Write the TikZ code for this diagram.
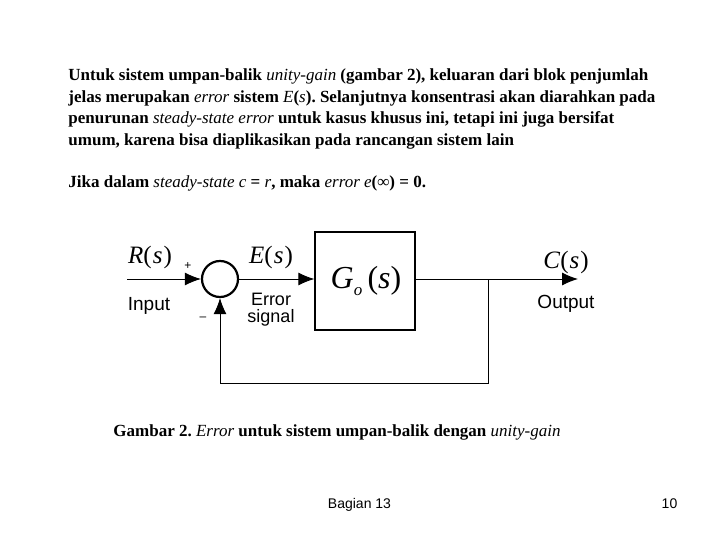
\documentclass[tikz,border=0pt]{standalone}
\usepackage{fontspec}
\setmainfont{Liberation Serif}
\setsansfont{Liberation Sans}
\usetikzlibrary{arrows.meta}
\frenchspacing
\begin{document}
\begin{tikzpicture}[x=1pt,y=-1pt,line width=0.9pt,
        txt/.style={anchor=base west,inner sep=0,font=\fontsize{17}{20}\selectfont\bfseries},
        sig/.style={-{Latex[length=16pt,width=13pt]}},
        var/.style={anchor=base,inner sep=0,font=\fontsize{25}{27}\selectfont},
        lbl/.style={anchor=base,inner sep=0,font=\fontsize{19}{20}\selectfont\sffamily},
        sgn/.style={inner sep=0,font=\fontsize{12}{12}\selectfont\sffamily}]
    \useasboundingbox (0,0) rectangle (720,540);
    \node [txt] (l1) at (68,81) {Untuk sistem umpan-balik \textit{\mdseries unity-gain} (gambar 2), keluaran dari blok penjumlah};
    \node [txt] (l2) at (68,102.7) {jelas merupakan \textit{\mdseries error} sistem \textit{\mdseries E}(\textit{\mdseries s}). Selanjutnya konsentrasi akan diarahkan pada};
    \node [txt] (l3) at (68,124) {penurunan \textit{\mdseries steady-state error} untuk kasus khusus ini, tetapi ini juga bersifat};
    \node [txt] (l4) at (68,145.5) {umum, karena bisa diaplikasikan pada rancangan sistem lain};
    \node [txt] (l5) at (68,188) {Jika dalam \textit{\mdseries steady-state c} = \textit{\mdseries r}, maka \textit{\mdseries error e}(∞) = 0.};
    \node [draw,circle,line width=2.2pt,minimum size=36pt,inner sep=0] (sum) at (220,279) {};
    \node [draw,line width=1.3pt,minimum width=100pt,minimum height=98pt,inner sep=0] (plant) at (365,281) {};
    \node [anchor=base,inner sep=0,font=\fontsize{32}{34}\selectfont] (go) at (366,288) {\textit{G}\raisebox{-7pt}{\fontsize{17}{17}\selectfont\textit{o}}\,(\textit{s})};
    \coordinate (in) at (127,279);
    \coordinate (branch) at (488,279);
    \coordinate (out) at (578,279);
    \coordinate (bottom) at (488,383);
    \draw [sig] (in) -- (sum.west);
    \draw [sig] (sum.east) -- (sum.east -| plant.west);
    \draw (sum -| plant.east) -- (branch);
    \draw [sig] (branch) -- (out);
    \draw [sig] (branch) -- (bottom) -| (sum.south);
    \node [var] (r) at (150,263) {\textit{R}(\kern1pt\textit{s}\kern1pt)};
    \node [var] (e) at (271,263) {\textit{E}(\kern1pt\textit{s}\kern1pt)};
    \node [var] (c) at (566,268) {\textit{C}(\kern1pt\textit{s}\kern1pt)};
    \node [sgn] (plus) at (188,266) {+};
    \node [sgn] (minus) at (203,319) {–};
    \node [lbl] (input) at (149,310) {Input};
    \node [lbl] (output) at (566,308) {Output};
    \node [lbl,font=\fontsize{18}{20}\selectfont\sffamily] (err) at (271,305) {Error};
    \node [lbl,font=\fontsize{18}{20}\selectfont\sffamily] (signal) at (271,322) {signal};
    \node [txt] (cap) at (113,436) {Gambar 2. \textit{\mdseries Error} untuk sistem umpan-balik dengan \textit{\mdseries unity-gain}};
    \node [anchor=base,inner sep=0,font=\fontsize{14}{16}\selectfont\sffamily] (page) at (359.5,508) {Bagian 13};
    \node [anchor=base,inner sep=0,font=\fontsize{14}{16}\selectfont\sffamily] (num) at (669.5,508) {10};
\end{tikzpicture}
\end{document}
